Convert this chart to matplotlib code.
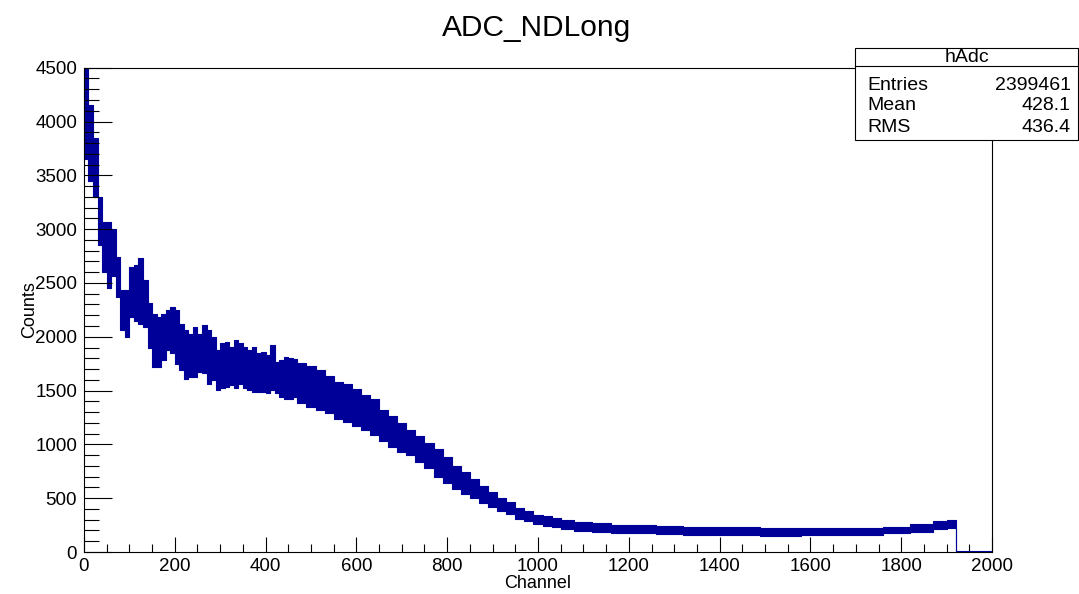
import matplotlib
matplotlib.use('Agg')
import matplotlib.pyplot as plt
from matplotlib.ticker import MultipleLocator
from matplotlib.patches import Rectangle

plt.rcParams['font.family'] = ['Liberation Sans', 'DejaVu Sans']

## histogram band: bin edges (channel), low / high of the noise band
EDGES = [0, 10, 20, 30, 40, 50, 60, 70, 80, 90, 100, 110, 120, 130, 140, 150,
         160, 170, 180, 190, 200, 210, 220, 230, 240, 250, 260, 270, 280, 290, 300,
         310, 320, 330, 340, 350, 360, 370, 380, 390, 400, 410, 420, 430, 440, 450,
         460, 470, 490, 510, 530, 550, 570, 590, 610, 630, 650, 670, 690, 710, 730,
         750, 770, 790, 810, 830, 850, 870, 890, 910, 930, 950, 970, 990, 1010, 1030,
         1050, 1080, 1120, 1160, 1200, 1260, 1320, 1400, 1490, 1580, 1680, 1760, 1820,
         1870, 1900, 1920, 2000]
LOW = [3650, 3450, 3300, 2850, 2600, 2450, 2560, 2370, 2060, 2000, 2185, 2150, 2120,
       2090, 1900, 1720, 1720, 1780, 1875, 1845, 1750, 1690, 1610, 1630, 1630, 1675,
       1660, 1565, 1600, 1505, 1520, 1535, 1550, 1520, 1565, 1520, 1505, 1490, 1490,
       1490, 1475, 1505, 1475, 1440, 1425, 1425, 1440, 1380, 1350, 1320, 1290, 1240,
       1210, 1170, 1130, 1090, 1030, 980, 930, 900, 840, 780, 700, 640, 590, 540, 500,
       455, 420, 380, 350, 310, 285, 260, 245, 230, 210, 195, 190, 180, 175, 165, 160,
       158, 152, 155, 158, 172, 190, 215, 225, 0]
HIGH = [4490, 4150, 3850, 3300, 3070, 3070, 3000, 2740, 2430, 2430, 2650, 2665, 2730,
        2525, 2310, 2215, 2185, 2215, 2245, 2280, 2245, 2120, 2060, 2030, 2090, 2030,
        2110, 2060, 2000, 1875, 1940, 1950, 1905, 1970, 1940, 1905, 1875, 1905, 1845,
        1860, 1830, 1920, 1765, 1780, 1810, 1800, 1790, 1760, 1730, 1690, 1640, 1580,
        1560, 1510, 1460, 1420, 1320, 1260, 1200, 1130, 1080, 1010, 960, 880, 800, 740,
        680, 610, 560, 500, 460, 410, 380, 345, 330, 315, 295, 280, 270, 255, 250, 240,
        235, 232, 225, 220, 222, 235, 258, 285, 300, 0]

STATS_NAMES = ['Entries', 'Mean', 'RMS']
STATS_VALUES = ['2399461', '428.1', '436.4']

COLOR = '#000099'

fig = plt.figure(figsize=(10.79, 5.94), dpi=100)
ax = fig.add_axes([0.0778, 0.0707, 0.8416, 0.8153])

ax.fill_between(EDGES, LOW + [LOW[-1]], HIGH + [HIGH[-1]], step='post',
                facecolor=COLOR, edgecolor=COLOR, linewidth=0.8)
ax.hlines(0, EDGES[-2], EDGES[-1], color=COLOR, linewidth=1.5, zorder=3)

ax.set_xlim(0, 2000)
ax.set_ylim(0, 4500)
ax.xaxis.set_major_locator(MultipleLocator(200))
ax.xaxis.set_minor_locator(MultipleLocator(50))
ax.yaxis.set_major_locator(MultipleLocator(500))
ax.yaxis.set_minor_locator(MultipleLocator(100))
ax.tick_params(axis='x', which='major', direction='in', length=10.8, width=0.8, labelsize=13.5, pad=4)
ax.tick_params(axis='x', which='minor', direction='in', length=5.8, width=0.8)
ax.tick_params(axis='y', which='major', direction='in', length=20, width=0.8, labelsize=13.5, pad=5)
ax.tick_params(axis='y', which='minor', direction='in', length=10.8, width=0.8)
for s in ax.spines.values():
    s.set_linewidth(0.8)

ax.set_xlabel('Channel', fontsize=13, labelpad=0)
ax.set_ylabel('Counts', fontsize=13, labelpad=-2)
fig.text(0.4977, 0.953, 'ADC_NDLong', fontsize=21.5, ha='center', va='center')

## stats box (figure pixel coords converted to fractions)
W, H = 1079., 594.
fig.add_artist(Rectangle((855/W, 1-140/H), 223/W, 92/H, transform=fig.transFigure,
                         facecolor='white', edgecolor='black', linewidth=0.8, zorder=5))
fig.add_artist(plt.Line2D([855/W, 1078/W], [1-65.7/H, 1-65.7/H], transform=fig.transFigure,
                          color='black', linewidth=0.8, zorder=6))
fig.text(967/W, 1-57/H, 'hAdc', fontsize=14, ha='center', va='center', zorder=7)
for i, (n, v) in enumerate(zip(STATS_NAMES, STATS_VALUES)):
    y = 1-(85+21*i)/H
    fig.text(867/W, y, n, fontsize=14, ha='left', va='center', zorder=7)
    fig.text(1071/W, y, v, fontsize=14, ha='right', va='center', zorder=7)

plt.savefig('out.png', dpi=100)
